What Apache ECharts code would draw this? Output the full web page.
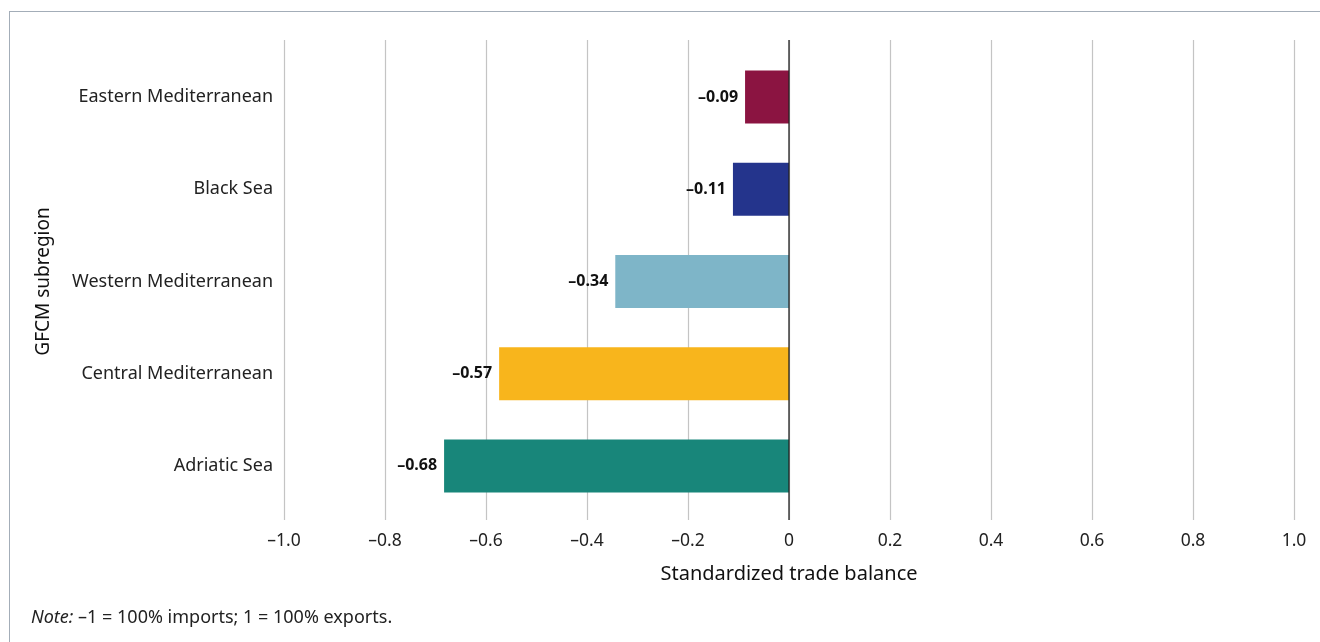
<!DOCTYPE html>
<html><head><meta charset="utf-8">
<script src="https://cdn.jsdelivr.net/npm/echarts@6/dist/echarts.min.js"></script>
<style>
html,body{margin:0;padding:0;background:#fff;}
#frame{position:absolute;left:9px;top:11px;width:1330px;height:660px;border:1.5px solid #a3adb8;box-sizing:border-box;}
#chart{position:absolute;left:0;top:0;width:1320px;height:642px;}
</style></head>
<body>
<div id="frame"></div>
<div id="chart"></div>
<script>
const categories = ['Eastern Mediterranean','Black Sea','Western Mediterranean','Central Mediterranean','Adriatic Sea'];
const values = [-0.087, -0.111, -0.344, -0.574, -0.683];
const colors = ['#8b1441','#24348c','#7eb5c8','#f8b51c','#18867a'];
const xTicks = [-1.0,-0.8,-0.6,-0.4,-0.2,0,0.2,0.4,0.6,0.8,1.0];

const font = '"Noto Sans", "Open Sans", sans-serif';
const fmt = v => Math.abs(v) < 1e-9 ? '0' : (v < 0 ? '\u2013' : '') + Math.abs(v).toFixed(1);

const chart = echarts.init(document.getElementById('chart'));
chart.setOption({
  animation:false,
  textStyle:{fontFamily:font},
  grid:[
    {left:284,right:26,top:51,height:461},
    {left:284,right:26,top:40,height:480}
  ],
  xAxis:[
    {gridIndex:0,type:'value',min:-1,max:1,interval:0.2,
      axisLine:{show:false},axisTick:{show:false},axisLabel:{show:false},splitLine:{show:false}},
    {gridIndex:1,type:'value',min:-1,max:1,interval:0.2,
      axisLine:{show:false},axisTick:{show:false},
      axisLabel:{color:'#222',fontSize:17.5,margin:12,formatter:fmt},
      splitLine:{show:true,lineStyle:{color:'#c4c4c4',width:1.2}},
      name:'Standardized trade balance',nameLocation:'middle',nameGap:44,
      nameTextStyle:{color:'#111',fontSize:20}},
    ],
  yAxis:[
    {gridIndex:0,type:'category',data:categories,inverse:true,
      axisLine:{show:false},axisTick:{show:false},
      axisLabel:{color:'#222',fontSize:18,margin:11},
      name:'GFCM subregion',nameLocation:'middle',nameGap:231,nameRotate:90,
      nameTextStyle:{color:'#111',fontSize:19}},
    {gridIndex:1,type:'value',min:0,max:1,show:false}
  ],
  series:[
    {type:'bar',xAxisIndex:0,yAxisIndex:0,barWidth:53,
      data:values.map((v,i)=>({value:v,itemStyle:{color:colors[i]}})),
      label:{show:true,position:'left',distance:7,color:'#111',fontSize:16,fontWeight:'bold',
        formatter:p=>'\u2013'+Math.abs(p.value).toFixed(2)}},
    {type:'line',xAxisIndex:1,yAxisIndex:1,data:[[0,0],[0,1]],symbol:'none',silent:true,
      lineStyle:{color:'#222',width:1.3}}
  ],
  graphic:[
    {type:'text',left:31,top:609,style:{
      text:'{i|Note:} \u20131 = 100% imports; 1 = 100% exports.',
      rich:{i:{fontStyle:'italic',fontSize:18,fill:'#222',fontFamily:font}},
      fontSize:18,fill:'#222',fontFamily:font}}
  ]
});
</script>
</body></html>
